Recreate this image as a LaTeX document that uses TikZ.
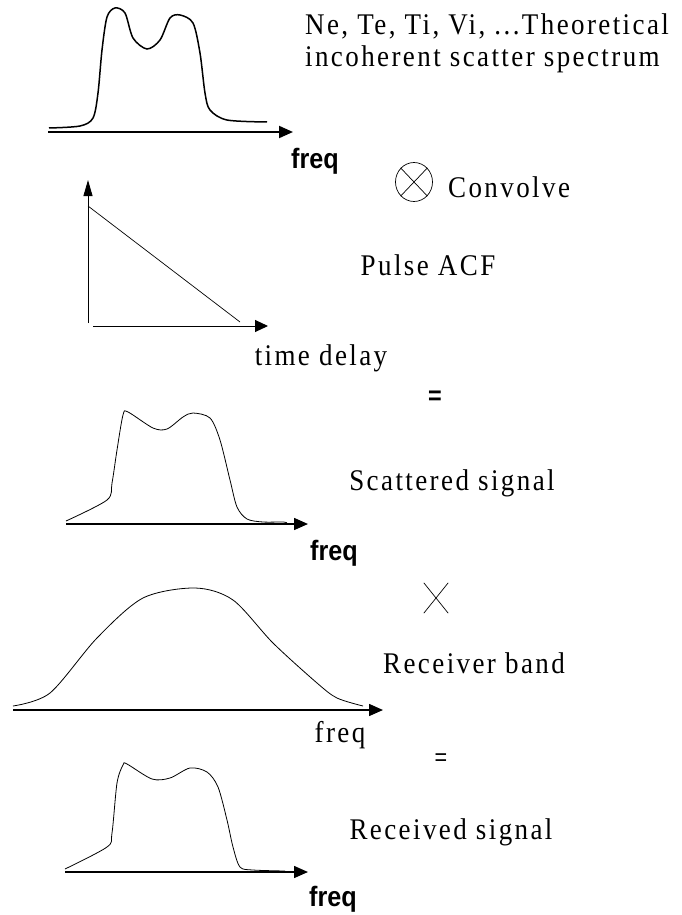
\documentclass[tikz,border=0pt]{standalone}
\usepackage{fontspec}
\setmainfont[LetterSpace=8,FakeStretch=0.9]{Liberation Serif}
\newfontfamily\freqfont[FakeStretch=0.9]{Liberation Sans}
\usetikzlibrary{arrows.meta,shapes.geometric}
\begin{document}
\begin{tikzpicture}[x=1pt,y=-1pt,
  lbl/.style={inner sep=0pt,font=\fontsize{30}{32}\selectfont},
  toplbl/.style={inner sep=0pt,font=\fontsize{30}{32}\selectfont},
  freqb/.style={inner sep=0pt,font=\freqfont\bfseries\fontsize{28}{30}\selectfont},
  axis/.style={line width=1.5pt,-{Triangle[length=14pt,width=12pt]}},
  thinaxis/.style={line width=1pt,-{Triangle[length=13pt,width=12pt]}},
  curve/.style={line width=0.8pt}]
\useasboundingbox (0,0) rectangle (682,915);
% top spectrum
\draw[line width=1.5pt] plot[smooth,tension=0.5] coordinates {(49,128) (80,126) (93,118) (98,93) (102,50) (107,17) (115,8) (125,13) (133,38) (147,49) (160,40) (170,18) (180,15) (193,23) (200,53) (205,93) (210,110) (227,120) (267,122)};
\coordinate (a1s) at (48,132); \coordinate (a1e) at (293,132);
\draw[line width=2pt,-{Triangle[length=14pt,width=12pt]}] (a1s) -- (a1e);
\node[freqb,anchor=base] (f1) at (315,168) {freq};
\node[toplbl,anchor=base west] (theo1) at (305,35) {Ne, Te, Ti, Vi, ...Theoretical};
\node[toplbl,anchor=base west] (theo2) at (305,67) {incoherent scatter spectrum};
% convolve
\node[ellipse,draw,line width=0.7pt,minimum width=37pt,minimum height=39pt,inner sep=0pt] (otimes) at (414,182) {};
\draw[line width=0.7pt] (otimes.north west) -- (otimes.south east) (otimes.north east) -- (otimes.south west);
\node[lbl,anchor=base west] (conv) at (448,197) {Convolve};
% pulse ACF
\coordinate (o2) at (88,323); \coordinate (y2) at (88,180);
\coordinate (x2s) at (93,326); \coordinate (x2e) at (268,326);
\draw[line width=0.9pt,-{Triangle[length=16pt,width=9pt]}] (o2) -- (y2);
\draw[thinaxis] (x2s) -- (x2e);
\coordinate (t1) at (88,206); \coordinate (t2) at (240,322);
\draw[line width=0.7pt] (t1) -- (t2);
\node[lbl,anchor=base] (pacf) at (428,275) {Pulse ACF};
\node[lbl,anchor=base] (td) at (321,365) {time delay};
\node[inner sep=0pt,font=\freqfont\bfseries\fontsize{26}{28}\selectfont] (eq1) at (435,398) {=};
% scattered signal
\draw[curve] plot[smooth,tension=0.5] coordinates {(66,521) (107,500) (112,483) (117,450) (123,415) (128,412) (153,428) (167,429) (183,417) (193,413) (210,418) (220,440) (230,480) (237,507) (247,519) (263,522) (283,522) (287,523)};
\coordinate (a3s) at (66,524); \coordinate (a3e) at (308,524);
\draw[axis] (a3s) -- (a3e);
\node[freqb,anchor=base] (f3) at (334,560) {freq};
\node[lbl,anchor=base] (scat) at (452,490) {Scattered signal};
\node[inner sep=0pt,minimum width=24pt,minimum height=30pt] (times) at (436,598) {};
\draw[line width=0.7pt] (times.north west) -- (times.south east) (times.north east) -- (times.south west);
% receiver band
\draw[curve] plot[smooth,tension=0.5] coordinates {(13,706) (50,693) (97,638) (143,598) (195,588) (233,600) (273,643) (317,683) (337,698) (363,706)};
\coordinate (a4s) at (13,710); \coordinate (a4e) at (383,710);
\draw[axis] (a4s) -- (a4e);
\node[lbl,anchor=base] (rb) at (474,673) {Receiver band};
\node[lbl,anchor=base] (f4) at (340,742) {freq};
\node[inner sep=0pt,font=\freqfont\fontsize{24}{26}\selectfont] (eq2) at (441,760) {=};
% received signal
\draw[curve] plot[smooth,tension=0.5] coordinates {(65,869) (107,847) (112,833) (117,783) (123,765) (127,764) (152,779) (170,778) (190,768) (207,772) (218,787) (227,820) (233,847) (240,867) (253,870) (285,871)};
\coordinate (a5s) at (65,872); \coordinate (a5e) at (308,872);
\draw[axis] (a5s) -- (a5e);
\node[lbl,anchor=base] (recv) at (451,839) {Received signal};
\node[freqb,anchor=base] (f5) at (333,906) {freq};
\end{tikzpicture}
\end{document}
